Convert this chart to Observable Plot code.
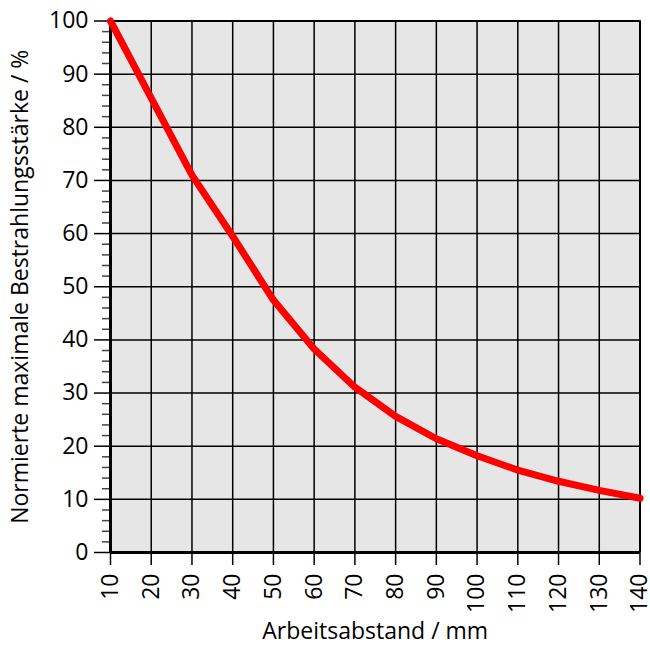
<!DOCTYPE html>
<html>
<head>
<meta charset="utf-8">
<script src="https://cdn.jsdelivr.net/npm/d3@7"></script>
<script src="https://cdn.jsdelivr.net/npm/@observablehq/plot@0.6"></script>
<style>
  html, body { margin: 0; padding: 0; background: #fff; }
</style>
</head>
<body>
<div id="chart"></div>
<script>
const distance = [10, 20, 30, 40, 50, 60, 70, 80, 90, 100, 110, 120, 130, 140];
const irradiance = [100, 85.5, 71, 59.5, 47.5, 38.3, 31.1, 25.6, 21.4, 18.2, 15.5, 13.4, 11.7, 10.2];
const xTicks = [10, 20, 30, 40, 50, 60, 70, 80, 90, 100, 110, 120, 130, 140];
const yTicks = [0, 10, 20, 30, 40, 50, 60, 70, 80, 90, 100];
const yMinorTicks = d3.range(0, 101, 2).filter(v => v % 10 !== 0);
const xLabel = "Arbeitsabstand / mm";
const yLabel = "Normierte maximale Bestrahlungsstärke / %";

const data = distance.map((d, i) => ({x: d, y: irradiance[i]}));

const FS = 23;
const chart = Plot.plot({
  width: 650,
  height: 647,
  marginLeft: 110,
  marginRight: 10.5,
  marginTop: 20.5,
  marginBottom: 95,
  style: {fontFamily: "'Open Sans', sans-serif", fontSize: FS + "px", color: "#000", background: "#fff"},
  x: {domain: [10, 140]},
  y: {domain: [0, 100]},
  marks: [
    Plot.frame({fill: "#e6e6e6", stroke: "none"}),
    Plot.gridX(xTicks, {stroke: "#000", strokeOpacity: 1, strokeWidth: 1.5}),
    Plot.gridY(yTicks, {stroke: "#000", strokeOpacity: 1, strokeWidth: 1.5}),
    Plot.axisY(yMinorTicks, {tickSize: 8, text: null, label: null, stroke: "#444", strokeWidth: 1.5}),
    Plot.axisY(yTicks, {tickSize: 16, tickPadding: 6, strokeWidth: 1.5, label: null, fontSize: FS}),
    Plot.axisX(xTicks, {tickSize: 13, tickPadding: 8, tickRotate: -90, strokeWidth: 1.5, label: null, fontSize: FS}),
    Plot.ruleX([140], {stroke: "#000", strokeWidth: 2}),
    Plot.ruleY([100], {stroke: "#000", strokeWidth: 2}),
    Plot.ruleX([10], {stroke: "#000", strokeWidth: 3}),
    Plot.ruleY([0], {stroke: "#000", strokeWidth: 3}),
    Plot.line(data, {x: "x", y: "y", stroke: "#ff0000", strokeWidth: 7, strokeLinecap: "round", strokeLinejoin: "round"}),
    Plot.text([xLabel], {frameAnchor: "bottom", dy: 86, text: d => d, fill: "#000", lineAnchor: "bottom", fontSize: FS}),
    Plot.text([yLabel], {frameAnchor: "left", dx: -90, rotate: -90, textAnchor: "middle", text: d => d, fill: "#000", fontSize: FS})
  ]
});
document.getElementById("chart").appendChild(chart);
</script>
</body>
</html>
